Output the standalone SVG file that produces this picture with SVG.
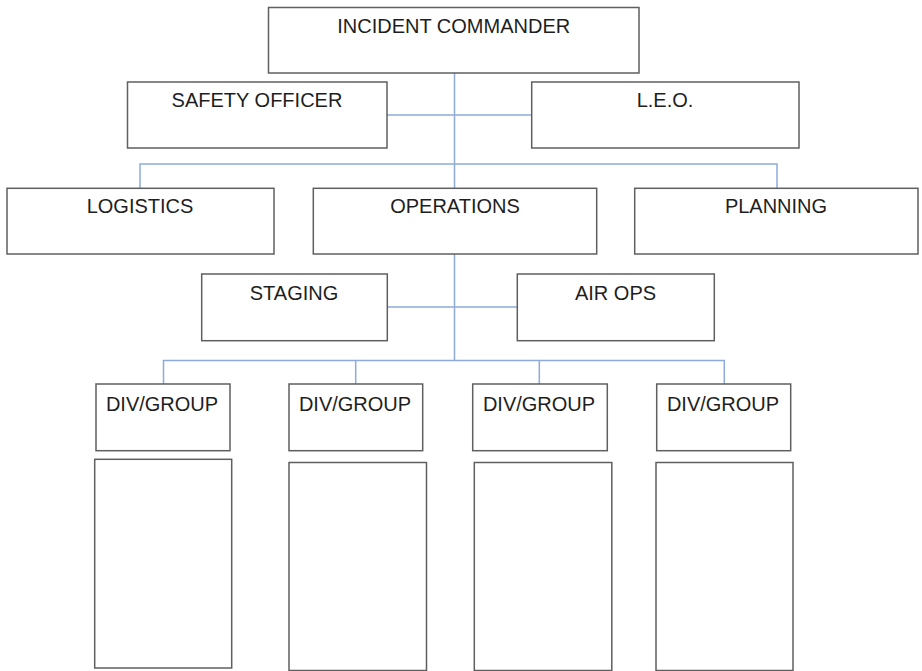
<svg xmlns="http://www.w3.org/2000/svg" width="922" height="671" viewBox="0 0 922 671">
<style>
.box{fill:#ffffff;stroke:#5f5f5f;stroke-width:1.5}
.lbl{font-family:"Liberation Sans",Arial,sans-serif;font-size:20px;fill:#1e1e1e;text-anchor:middle}
.con{fill:none;stroke:#8eaadb;stroke-width:1.5}
</style>
<rect width="922" height="671" fill="#ffffff"/>
<g id="connectors">
<path class="con" d="M454.5,73 V188"/>
<path class="con" d="M387,115 H531.7"/>
<path class="con" d="M140,188 V164 H777 V188"/>
<path class="con" d="M454.5,254 V360.5"/>
<path class="con" d="M387.3,307 H517.3"/>
<path class="con" d="M163.5,384 V360.5 H724.3 V384"/>
<path class="con" d="M355.7,360.5 V384"/>
<path class="con" d="M539.3,360.5 V384"/>
</g>
<g id="incident-commander"><rect class="box" x="268.5" y="7.5" width="370.5" height="65.5"/><text class="lbl" x="453.7" y="33">INCIDENT COMMANDER</text></g>
<g id="safety-officer"><rect class="box" x="127.5" y="82" width="259.5" height="66"/><text class="lbl" x="257" y="107">SAFETY OFFICER</text></g>
<g id="leo"><rect class="box" x="531.7" y="82" width="267.3" height="66"/><text class="lbl" x="665" y="107">L.E.O.</text></g>
<g id="logistics"><rect class="box" x="7" y="188.3" width="267" height="65.7"/><text class="lbl" x="140" y="213">LOGISTICS</text></g>
<g id="operations"><rect class="box" x="313.3" y="188.3" width="283.4" height="65.7"/><text class="lbl" x="455" y="213">OPERATIONS</text></g>
<g id="planning"><rect class="box" x="634.7" y="188.3" width="283.3" height="65.7"/><text class="lbl" x="776" y="213">PLANNING</text></g>
<g id="staging"><rect class="box" x="201.7" y="274" width="185.6" height="66.7"/><text class="lbl" x="294" y="300">STAGING</text></g>
<g id="air-ops"><rect class="box" x="517.3" y="274" width="197" height="66.7"/><text class="lbl" x="615.5" y="300">AIR OPS</text></g>
<g id="div-group-1"><rect class="box" x="96" y="384" width="134" height="66.7"/><text class="lbl" x="162" y="410.5">DIV/GROUP</text></g>
<g id="div-group-2"><rect class="box" x="289" y="384" width="133.7" height="66.7"/><text class="lbl" x="355" y="410.5">DIV/GROUP</text></g>
<g id="div-group-3"><rect class="box" x="472.7" y="384" width="134.6" height="66.7"/><text class="lbl" x="539" y="410.5">DIV/GROUP</text></g>
<g id="div-group-4"><rect class="box" x="656.7" y="384" width="134" height="66.7"/><text class="lbl" x="723" y="410.5">DIV/GROUP</text></g>
<g id="div-group-1-list"><rect class="box" x="94.7" y="459.3" width="137" height="208.7"/></g>
<g id="div-group-2-list"><rect class="box" x="289" y="462.5" width="137.5" height="208"/></g>
<g id="div-group-3-list"><rect class="box" x="474.3" y="462.5" width="137.5" height="208"/></g>
<g id="div-group-4-list"><rect class="box" x="656" y="462.5" width="137" height="208"/></g>
</svg>
